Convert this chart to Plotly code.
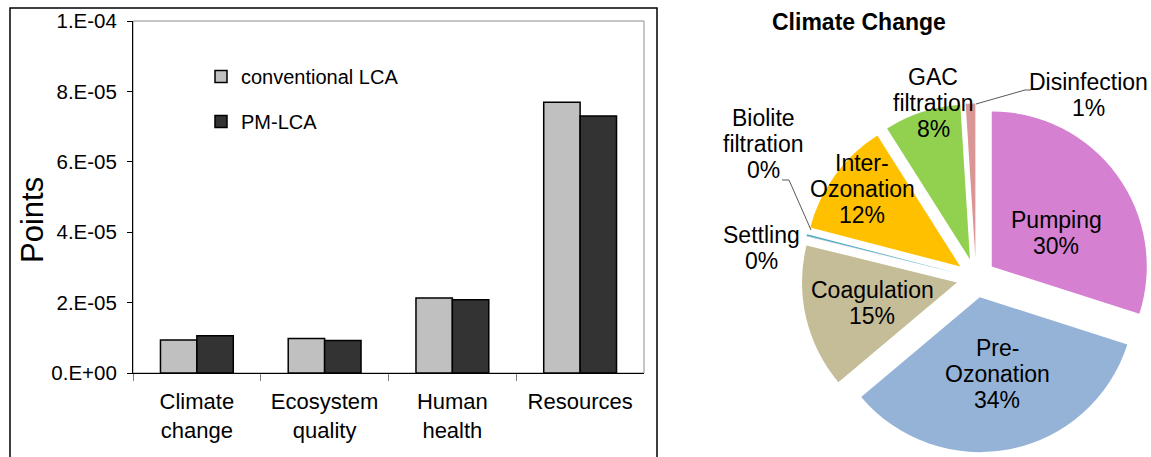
import plotly.graph_objects as go

W, H = 1151, 457

# ---------------- data ----------------
categories = ["Climate<br>change", "Ecosystem<br>quality", "Human<br>health", "Resources"]
conventional_lca = [9.4e-6, 9.8e-6, 2.13e-5, 7.69e-5]
pm_lca = [1.06e-5, 9.2e-6, 2.08e-5, 7.30e-5]
y_tickvals = [0, 2e-5, 4e-5, 6e-5, 8e-5, 1e-4]
y_ticktext = ["0.E+00", "2.E-05", "4.E-05", "6.E-05", "8.E-05", "1.E-04"]

pie_labels = ["Pumping", "Pre-<br>Ozonation", "Coagulation", "Settling",
              "Biolite<br>filtration", "Inter-<br>Ozonation", "GAC<br>filtration", "Disinfection"]
pie_values = [30.0, 34.0, 15.0, 0.05, 0.15, 12.0, 8.0, 1.0]
pie_colors = ["#D580D0", "#95B3D7", "#C4BD97", "#A6A6A6", "#4BACC6", "#FFC000", "#92D050", "#D99694"]

FONT = "Liberation Sans, Arial, sans-serif"


def px(x):
    return x / W


def py(y):
    return 1 - y / H


fig = go.Figure()

fig.add_trace(go.Bar(
    x=categories, y=conventional_lca, name="conventional LCA",
    marker=dict(color="#C0C0C0", line=dict(color="#000000", width=1.5)),
    legendgroup="a",
))
fig.add_trace(go.Bar(
    x=categories, y=pm_lca, name="PM-LCA",
    marker=dict(color="#333333", line=dict(color="#000000", width=1.5)),
    legendgroup="b",
))

fig.add_trace(go.Pie(
    labels=[l.replace("<br>", " ") for l in pie_labels], values=pie_values,
    marker=dict(colors=pie_colors, line=dict(width=0)),
    sort=False, direction="clockwise", rotation=0,
    pull=[0.126] * len(pie_values),
    textinfo="none", showlegend=False, hoverinfo="label+percent",
    domain=dict(x=[px(801.5), px(1150.5)], y=[py(452.5), py(103.5)]),
))

fig.update_layout(
    width=W, height=H,
    margin=dict(l=0, r=0, t=0, b=0, autoexpand=False),
    paper_bgcolor="white", plot_bgcolor="white",
    font=dict(family=FONT, color="#000000"),
    barmode="group", bargap=0.43, bargroupgap=0,
    legend=dict(
        x=px(201), y=py(57), xanchor="left", yanchor="top",
        font=dict(size=20, family=FONT), bgcolor="rgba(0,0,0,0)",
        traceorder="grouped", tracegroupgap=16,
    ),
    xaxis=dict(
        domain=[px(133), px(644)], automargin=False,
        showline=True, linecolor="#000000", linewidth=1,
        ticks="outside", tickson="boundaries", ticklen=7, tickcolor="#808080",
        tickfont=dict(size=22, family=FONT), showgrid=False,
        ticklabelstandoff=9,
    ),
    yaxis=dict(
        domain=[py(373), py(21)], range=[0, 1e-4], automargin=False,
        tickvals=y_tickvals, ticktext=y_ticktext,
        showline=True, linecolor="#000000", linewidth=1,
        ticks="outside", ticklen=5, tickcolor="#000000",
        tickfont=dict(size=20.5, family=FONT), showgrid=False, zeroline=False,
        ticklabelstandoff=6,
    ),
)

shapes = []
# outer frame of bar chart
shapes.append(dict(type="path", xref="paper", yref="paper",
                   path=f"M{px(10)},{py(470)} L{px(10)},{py(8)} L{px(657)},{py(8)} L{px(657)},{py(470)}",
                   line=dict(color="#000000", width=1.5)))
# grey plot-area border (top/right)
shapes.append(dict(type="rect", xref="x domain", yref="y domain", x0=0, x1=1, y0=0, y1=1,
                   line=dict(color="#8C8C8C", width=1), layer="below"))
# leader lines for the pie
shapes.append(dict(type="path", xref="paper", yref="paper",
                   path=f"M{px(782)},{py(180)} L{px(789)},{py(180)} L{px(811)},{py(230)}",
                   line=dict(color="#595959", width=1)))
shapes.append(dict(type="path", xref="paper", yref="paper",
                   path=f"M{px(976)},{py(104)} L{px(1025)},{py(90)} L{px(1031)},{py(90)}",
                   line=dict(color="#595959", width=1)))
fig.update_layout(shapes=shapes)

annotations = []
annotations.append(dict(text="Points", xref="paper", yref="paper", x=px(32), y=py(220),
                        textangle=-90, showarrow=False, font=dict(size=31, family=FONT),
                        xanchor="center", yanchor="middle"))
annotations.append(dict(text="<b>Climate Change</b>", xref="paper", yref="paper", x=px(859), y=py(22),
                        showarrow=False, font=dict(size=23, family=FONT),
                        xanchor="center", yanchor="middle"))

# pie label positions (centre x, first-line centre y) in pixels
label_pos = [(1056, 220), (997, 348), (872, 290), (761, 235), (763, 118), (862, 163), (933, 77), (1088, 82)]
total = sum(pie_values)
for lab, val, (lx, ly) in zip(pie_labels, pie_values, label_pos):
    lines = lab.split("<br>") + [f"{round(val / total * 100):.0f}%"]
    for i, ln in enumerate(lines):
        annotations.append(dict(text=ln, xref="paper", yref="paper", x=px(lx), y=py(ly + 26 * i),
                                showarrow=False, font=dict(size=23, family=FONT),
                                xanchor="center", yanchor="middle"))
fig.update_layout(annotations=annotations)

fig.write_html("out.html")
